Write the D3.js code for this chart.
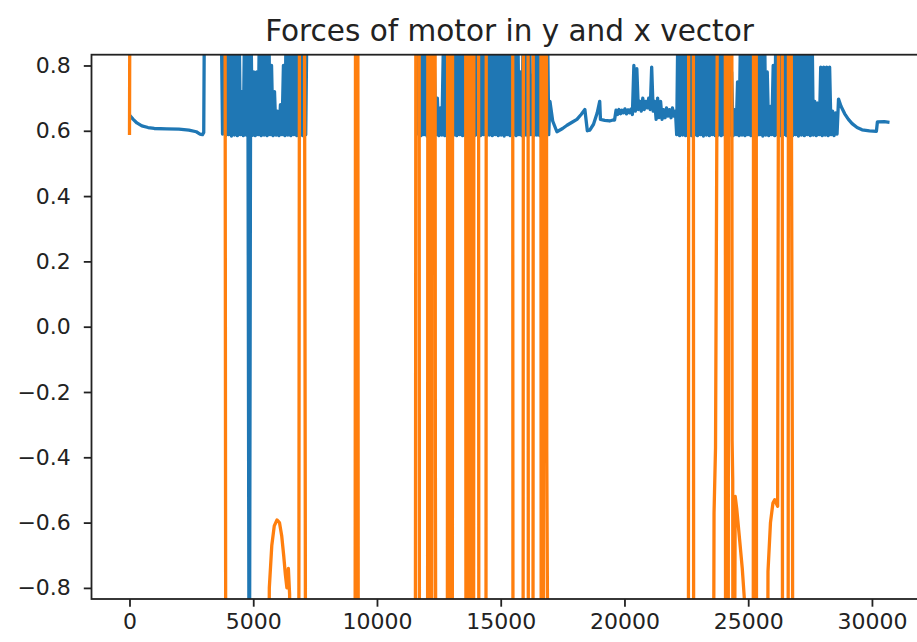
<!DOCTYPE html>
<html><head><meta charset="utf-8">
<script src="https://cdn.jsdelivr.net/npm/d3@7"></script>
<style>body{margin:0;background:#fff} svg{display:block}</style>
</head><body><div id="chart"></div>
<script>
const chartTitle = "Forces of motor in y and x vector";
const xTicks = [0, 5000, 10000, 15000, 20000, 25000, 30000];
const yTicks = [-0.8, -0.6, -0.4, -0.2, 0.0, 0.2, 0.4, 0.6, 0.8];

// blue series (y-force), slow parts: [sample, value]
const blueStart = [[0,0.648],[150,0.635],[300,0.624],[500,0.615],[750,0.61],[1000,0.607],[1500,0.606],[2000,0.605],[2400,0.602],[2700,0.597],[2850,0.59],[2950,0.588],[3000,0.595],[3030,1.0],[3700,1.0]];
// rapid oscillation bursts: sampled every 60 samples from the given start sample
const burstStep = 60;
const burst1Start = 3760;
const burst1 = [0.59,1,0.585,1,0.588,1,0.584,1,0.587,1,0.585,1,0.588,0.72,0.585,1,0.587,1,-1.5,1,0.586,0.78,0.585,0.78,0.588,1,0.585,1,0.587,1,0.585,1,0.588,0.80,0.585,0.72,0.587,0.66,0.585,0.68,0.588,0.80,0.585,1,0.587,1,0.585,1,0.588,1,0.585,1,0.587,1,0.585,1,0.588,1];
const blueGap = [[11600,1.0]];
const burst2Start = 11660;
const burst2 = [0.59,1,0.585,1,0.588,1,0.584,1,0.587,1,
 0.585,0.80,0.588,0.70,0.585,0.67,0.587,0.85,0.585,1,
 0.588,1,0.584,1,0.587,1,0.585,1,0.588,1,
 0.585,1,0.587,1,0.584,1,0.588,1,0.585,1,
 0.587,1,0.585,1,0.588,1,0.584,1,0.587,1,
 0.585,1,0.588,1,0.585,1,0.587,1,0.584,1,
 0.588,1,0.585,1,0.587,1,0.585,1,0.588,0.78,
 0.585,1,0.587,1,0.584,1,0.588,0.77,0.585,1,
 0.587,1,0.585,1,0.588,1,0.585,1,0.588];
const blueMiddle = [[16990,0.69],[17100,0.63],[17270,0.597],[17500,0.607],[17680,0.617],[17900,0.627],[18080,0.635],[18250,0.65],[18400,0.665],[18500,0.60],[18600,0.602],[18750,0.62],[18900,0.655],[19000,0.69],
 [19030,0.635],[19200,0.632],[19400,0.630],[19540,0.633]];
const band1Start = 19600;
const band1 = [0.633,0.663,0.65,0.665,0.652,0.663,0.655,0.667,0.652,0.664,
 0.655,0.666,0.65,0.80,0.66,0.79,0.665,0.69,0.66,0.70,
 0.665,0.69,0.67,0.70,0.665,0.795,0.66,0.69,0.635,0.70,
 0.64,0.69,0.635,0.665,0.64,0.67,0.645,0.665,0.64,0.67,
 0.645,0.66];
const burst3Start = 22110;
const burst3 = [0.588,1,0.585,1,0.587,1,0.585,1,0.588,1,
 0.585,1,0.587,1,0.585,1,0.588,1,0.584,1,
 0.587,1,0.585,1,0.588,1,0.585,1,0.587,1,
 0.585,1,0.588,1,0.585,0.9,0.587,0.78,0.585,0.665,
 0.588,0.75,0.585,0.9,0.587,1,0.585,1,0.588,1,
 0.585,1,0.587,1,0.585,1,0.588,1,0.584,1,
 0.587,0.78,0.585,0.675,0.588,0.80,0.585,1,0.587,1,
 0.585,1,0.588,1,0.585,1,0.587,1,0.585,1,
 0.588,1,0.584,1,0.587,1,0.585,1,0.588,1,
 0.585,1,0.587,0.69,0.585,0.685,0.588,0.795,0.585,0.795,
 0.587,0.795,0.585,0.795,0.588,0.66,0.585,0.655,0.59];
const blueEnd = [[28650,0.697],[28750,0.675],[28900,0.652],[29050,0.635],[29200,0.622],[29400,0.61],[29600,0.603],[29900,0.60],[30180,0.598],[30220,0.627],[30500,0.628],[30710,0.626]];

// orange series (x-force): [sample, value]
const orangeSeries = [
 [0,0.587],[50,2.0],
 [3850,2.0],[3900,-2.0],
 [5560,-2.0],[5650,-0.80],[5750,-0.67],[5850,-0.61],[5960,-0.592],[6060,-0.60],[6150,-0.64],[6230,-0.70],[6300,-0.76],[6360,-0.80],[6420,-0.74],[6470,-0.82],[6520,-2.0],
 [6830,-2.0],[6880,2.0],
 [7050,2.0],[7100,-0.42],[7130,-2.0],
 [9110,-2.0],[9140,2.0],[9220,2.0],[9250,-2.0],
 [11540,-2.0],[11560,-0.3],[11580,2.0],[11700,2.0],[11720,-2.0],
 [12040,-2.0],[12060,2.0],[12100,2.0],[12120,-2.0],
 [12210,-2.0],[12230,2.0],[12340,2.0],[12360,-0.45],[12400,-2.0],
 [12840,-2.0],[12860,2.0],[12930,2.0],[12950,-2.0],[13040,-2.0],[13060,2.0],
 [13580,2.0],[13600,-2.0],[13680,-2.0],[13700,2.0],[13780,2.0],[13800,-0.48],[13820,-2.0],[13900,-2.0],[13920,2.0],
 [14100,2.0],[14120,-2.0],[14400,-2.0],[14420,2.0],
 [15480,2.0],[15500,-2.0],[15900,-2.0],[15920,2.0],[16100,2.0],[16120,-2.0],[16300,-2.0],[16320,2.0],
 [16620,2.0],[16640,-2.0],[16720,-2.0],[16740,2.0],[16840,2.0],[16860,-0.38],[16960,-2.0],
 [22580,-2.0],[22600,2.0],[22780,2.0],[22800,-2.0],
 [23570,-2.0],[23620,-0.57],[23680,-0.37],[23810,2.0],
 [24070,2.0],[24090,-2.0],[24190,-2.0],[24210,2.0],[24330,2.0],[24350,-0.35],[24375,-0.47],[24395,-2.0],
 [24410,-2.0],[24475,-0.52],[24540,-0.56],[24650,-0.65],[24760,-0.74],[24860,-0.85],[24880,-2.0],
 [25200,-2.0],[25220,2.0],[25320,2.0],[25340,-2.0],
 [25750,-2.0],[25800,-0.75],[25900,-0.60],[26000,-0.54],[26070,-0.53],[26190,-0.55],[26250,2.0],
 [26370,2.0],[26390,-2.0],
 [26610,-2.0],[26630,2.0],[26700,2.0],[26790,-0.57],[26810,-2.0],
 [30710,-2.0]
];

const burst = (start, vals) => vals.map((v, i) => [start + i * burstStep, v]);
const blueSeries = [].concat(
  blueStart, burst(burst1Start, burst1), blueGap, burst(burst2Start, burst2),
  blueMiddle, burst(band1Start, band1), burst(burst3Start, burst3), blueEnd);

const W = 917, H = 642;
const plot = {left: 91.5, right: 927.5, top: 54.7, bottom: 599};
const FONT = "'DejaVu Sans', sans-serif";
const INK = "#222";

const svg = d3.select("#chart").append("svg").attr("width", W).attr("height", H);

const x = d3.scaleLinear().domain([-1535, 32245]).range([plot.left, plot.right]);
const y = d3.scaleLinear().domain([-0.834, 0.833]).range([plot.bottom, plot.top]);

svg.append("defs").append("clipPath").attr("id", "clip")
  .append("rect").attr("x", plot.left).attr("y", plot.top)
  .attr("width", plot.right - plot.left).attr("height", plot.bottom - plot.top);

const line = d3.line().x(d => x(d[0])).y(d => y(d[1]));

const g = svg.append("g").attr("clip-path", "url(#clip)");
g.append("path").datum(blueSeries).attr("d", line)
  .attr("fill", "none").attr("stroke", "#1f77b4").attr("stroke-width", 3.3)
  .attr("stroke-linejoin", "round");
g.append("path").datum(orangeSeries).attr("d", line)
  .attr("fill", "none").attr("stroke", "#ff7f0e").attr("stroke-width", 3.3)
  .attr("stroke-linejoin", "round");

// axes
const yAxis = d3.axisLeft(y).tickValues(yTicks).tickSize(7.7).tickPadding(13)
  .tickFormat(d3.format(".1f"));
const xAxis = d3.axisBottom(x).tickValues(xTicks).tickSize(7.7).tickPadding(7)
  .tickFormat(d3.format("d"));

const ya = svg.append("g").attr("transform", `translate(${plot.left},0)`).call(yAxis);
const xa = svg.append("g").attr("transform", `translate(0,${plot.bottom})`).call(xAxis);
[ya, xa].forEach(a => {
  a.select(".domain").remove();
  a.selectAll(".tick line").attr("stroke", INK).attr("stroke-width", 1.8);
  a.selectAll(".tick text").attr("fill", INK).style("font-family", FONT).style("font-size", "22px");
});

// spines
svg.append("rect").attr("x", plot.left).attr("y", plot.top)
  .attr("width", plot.right - plot.left).attr("height", plot.bottom - plot.top)
  .attr("fill", "none").attr("stroke", INK).attr("stroke-width", 1.8);

svg.append("text").attr("x", (plot.left + plot.right) / 2).attr("y", 41)
  .attr("text-anchor", "middle").attr("fill", INK)
  .style("font-family", FONT).style("font-size", "29.5px").text(chartTitle);
</script></body></html>
